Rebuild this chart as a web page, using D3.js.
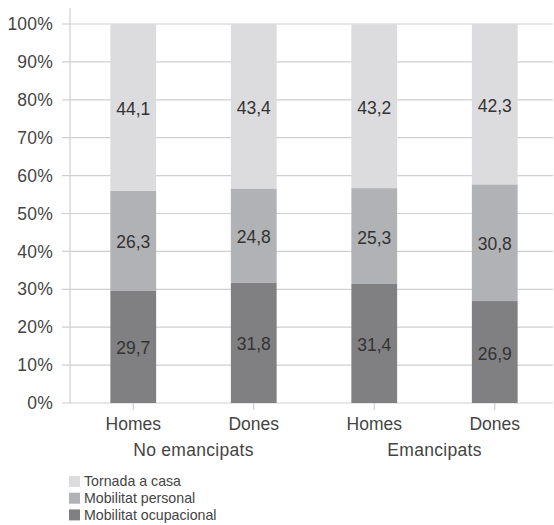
<!DOCTYPE html>
<html><head><meta charset="utf-8">
<script src="https://cdn.jsdelivr.net/npm/d3@7"></script>
<style>body{margin:0;background:#fff}svg{display:block}text{font-family:"Liberation Sans",Arial,sans-serif}</style>
</head><body><svg id="c" width="554" height="525"></svg>
<script>
const categories = ["Homes","Dones","Homes","Dones"];
const groups = ["No emancipats","Emancipats"];
const seriesNames = ["Mobilitat ocupacional","Mobilitat personal","Tornada a casa"];
const ocupacional = [29.7,31.8,31.4,26.9];
const personal = [26.3,24.8,25.3,30.8];
const tornada = [44.1,43.4,43.2,42.3];
const yTicks = [0,10,20,30,40,50,60,70,80,90,100];
const colors = ["#808083","#b1b2b5","#dcdcde"];

const svg = d3.select("#c");
const x = d3.scaleBand().domain(d3.range(4)).range([73,555]).paddingInner(0.62).paddingOuter(0.31);
const y = d3.scaleLinear().domain([0,100]).range([403,24]);

svg.append("g").selectAll("line").data(yTicks).join("line")
  .attr("x1",62).attr("x2",553).attr("y1",d=>y(d)).attr("y2",d=>y(d))
  .attr("stroke","#cfcfd1").attr("stroke-width",1.2);
svg.append("line").attr("x1",70).attr("x2",70).attr("y1",8).attr("y2",403).attr("stroke","#cfcfd1").attr("stroke-width",1.2);

svg.append("g").selectAll("text").data(yTicks).join("text")
  .attr("x",53).attr("y",d=>y(d)).attr("dy","0.35em").attr("text-anchor","end")
  .attr("font-size",17.5).attr("letter-spacing",0.2).attr("fill","#444").text(d=>d+"%");

const rows = categories.map((c,i)=>({i, ocupacional:ocupacional[i], personal:personal[i], tornada:tornada[i]}));
const stack = d3.stack().keys(["ocupacional","personal","tornada"])(rows);
const fmt = v => String(v).replace(".",",");

stack.forEach((s,k)=>{
  const g = svg.append("g");
  g.selectAll("rect").data(s).join("rect")
    .attr("x",d=>x(d.data.i)).attr("width",x.bandwidth())
    .attr("y",d=>y(Math.min(100,d[1]))).attr("height",d=>y(d[0])-y(Math.min(100,d[1])))
    .attr("fill",colors[k]);
  g.selectAll("text").data(s).join("text")
    .attr("x",d=>x(d.data.i)+x.bandwidth()/2).attr("y",d=>y((d[0]+Math.min(100,d[1]))/2)+1.5)
    .attr("dy","0.35em").attr("text-anchor","middle").attr("font-size",17.5).attr("fill","#333")
    .text(d=>fmt(d.data[s.key]));
});

svg.append("g").selectAll("line").data(d3.range(4)).join("line")
  .attr("x1",d=>x(d)+x.bandwidth()/2).attr("x2",d=>x(d)+x.bandwidth()/2)
  .attr("y1",403).attr("y2",410).attr("stroke","#cfcfd1").attr("stroke-width",1.2);
svg.append("g").selectAll("text").data(categories).join("text")
  .attr("x",(d,i)=>x(i)+x.bandwidth()/2).attr("y",430).attr("text-anchor","middle")
  .attr("font-size",17.5).attr("fill","#444").text(d=>d);
svg.append("g").selectAll("text").data(groups).join("text")
  .attr("x",(d,i)=>(x(2*i)+x(2*i+1))/2+x.bandwidth()/2).attr("y",456).attr("text-anchor","middle")
  .attr("font-size",17.5).attr("letter-spacing",0.3).attr("fill","#444").text(d=>d);

const legendItems = [2,1,0];
const lg = svg.append("g");
legendItems.forEach((k,j)=>{
  lg.append("rect").attr("x",69).attr("y",476+j*16.7).attr("width",11).attr("height",11).attr("fill",colors[k]);
  lg.append("text").attr("x",84).attr("y",481.5+j*16.7).attr("dy","0.35em").attr("font-size",14.2).attr("fill","#444").text(seriesNames[k]);
});
</script></body></html>
